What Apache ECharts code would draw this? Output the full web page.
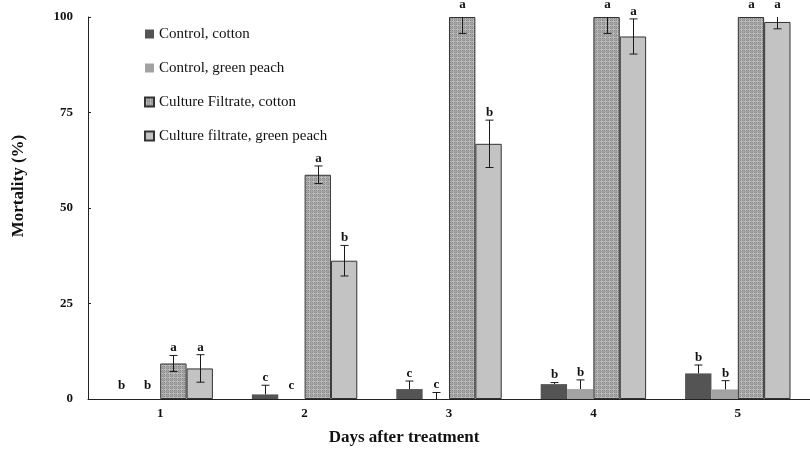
<!DOCTYPE html>
<html>
<head>
<meta charset="utf-8">
<script src="https://cdn.jsdelivr.net/npm/echarts@6/dist/echarts.min.js"></script>
<style>
  html, body { margin: 0; padding: 0; background: #fff; }
  #main { width: 810px; height: 449px; }
</style>
</head>
<body>
<div id="main"></div>
<script>
var days = ['1', '2', '3', '4', '5'];
var yTicks = [0, 25, 50, 75, 100];

var controlCotton = [0, 1.2, 2.6, 3.9, 6.7];
var controlCottonErr = [0, 2.4, 2.1, 0.4, 2.2];
var controlCottonLetters = ['b', 'c', 'c', 'b', 'b'];

var controlPeach = [0, 0, 0, 2.6, 2.5];
var controlPeachErr = [0, 0, 1.7, 2.4, 2.3];
var controlPeachLetters = ['b', 'c', 'c', 'b', 'b'];

var filtrateCotton = [9.3, 58.7, 100, 100, 100];
var filtrateCottonErr = [2.1, 2.3, 4.3, 4.3, 0];
var filtrateCottonLetters = ['a', 'a', 'a', 'a', 'a'];

var filtratePeach = [8.0, 36.2, 66.8, 94.9, 98.7];
var filtratePeachErr = [3.6, 4.0, 6.2, 4.6, 1.8];
var filtratePeachLetters = ['a', 'b', 'b', 'a', 'a'];

var serif = '"Liberation Serif", "DejaVu Serif", serif';

// checkered fill for the culture filtrate / cotton bars
function makeCheck() {
	var c = document.createElement('canvas');
	c.width = 4; c.height = 4;
	var g = c.getContext('2d');
	g.fillStyle = '#8a8a8a';
	g.fillRect(0, 0, 4, 4);
	g.fillStyle = '#bdbdbd';
	g.fillRect(1, 0, 1, 4);
	g.fillRect(0, 1, 4, 1);
	g.fillStyle = '#a4a4a4';
	g.fillRect(3, 0, 1, 4);
	g.fillRect(0, 3, 4, 1);
	return c;
}
var checkFill = { image: makeCheck(), repeat: 'repeat' };

var allVals = [controlCotton, controlPeach, filtrateCotton, filtratePeach];
var allErrs = [controlCottonErr, controlPeachErr, filtrateCottonErr, filtratePeachErr];
var allLetters = [controlCottonLetters, controlPeachLetters, filtrateCottonLetters, filtratePeachLetters];

var errData = [];
allVals.forEach(function(vals, s) {
	vals.forEach(function(v, i) {
		errData.push([i, v, allErrs[s][i], s]);
	});
});

function renderErr(params, api) {
	var cat = api.value(0), v = api.value(1), e = api.value(2), s = api.value(3);
	var base = api.coord([cat, 0]);
	var band = api.size([1, 0])[0];
	var bw = band * 0.73 / 4;
	var x = Math.round(base[0] + (s - 1.5) * bw) + 0.5;
	// controls only show the upper whisker
	var lo = s < 2 ? v : Math.max(v - e, 0);
	var hi = Math.min(v + e, 100);
	var yLo = api.coord([cat, lo])[1];
	var yHi = api.coord([cat, hi])[1];
	var ls = { stroke: '#1a1a1a', lineWidth: 1 };
	var kids = [];
	if (e > 0) {
		kids.push({ type: 'line', shape: { x1: x, y1: yLo, x2: x, y2: yHi }, style: ls });
		if (v + e <= 100) kids.push({ type: 'line', shape: { x1: x - 4, y1: yHi, x2: x + 4, y2: yHi }, style: ls });
		if (s >= 2 && v - e >= 0) kids.push({ type: 'line', shape: { x1: x - 4, y1: yLo, x2: x + 4, y2: yLo }, style: ls });
	}
	var ty = Math.min(yHi, base[1] - 6) - 1;
	if (hi >= 100) ty -= 5;
	kids.push({
		type: 'text',
		style: {
			x: x, y: ty, text: allLetters[s][cat],
			align: 'center', verticalAlign: 'bottom',
			font: 'bold 13px ' + serif, fill: '#111'
		}
	});
	return { type: 'group', children: kids };
}

var chart = echarts.init(document.getElementById('main'));
chart.setOption({
	animation: false,
	backgroundColor: '#fff',
	grid: { left: 88, right: -11, top: 17, bottom: 50, containLabel: false },
	legend: {
		orient: 'vertical',
		left: 139, top: 20,
		itemWidth: 9, itemHeight: 9, itemGap: 16,
		icon: 'rect',
		selectedMode: false,
		data: ['Control, cotton', 'Control, green peach', 'Culture Filtrate, cotton', 'Culture filtrate, green peach'],
		textStyle: { fontFamily: serif, fontSize: 15, color: '#111', lineHeight: 18 }
	},
	graphic: [
		{
			type: 'text', x: 404, y: 438,
			style: { text: 'Days after treatment', font: 'bold 17px ' + serif, fill: '#111', align: 'center', verticalAlign: 'middle' }
		},
		{
			type: 'text', x: 19, y: 186, rotation: Math.PI / 2,
			style: { text: 'Mortality (%)', font: 'bold 17px ' + serif, fill: '#111', align: 'center', verticalAlign: 'middle' }
		}
	],
	xAxis: {
		type: 'category',
		data: days,
		axisLine: { lineStyle: { color: '#222', width: 1 } },
		axisTick: { inside: true, length: 4, lineStyle: { color: '#222' } },
		axisLabel: { fontFamily: serif, fontWeight: 'bold', fontSize: 13, color: '#111', margin: 8 }
	},
	yAxis: {
		type: 'value',
		min: yTicks[0], max: yTicks[yTicks.length - 1], interval: 25,
		splitLine: { show: false },
		axisLine: { show: true, lineStyle: { color: '#222', width: 1 } },
		axisTick: { show: true, inside: true, length: 3, lineStyle: { color: '#222' } },
		axisLabel: { fontFamily: serif, fontWeight: 'bold', fontSize: 13, color: '#111', margin: 15 }
	},
	series: [
		{
			name: 'Control, cotton', type: 'bar', data: controlCotton,
			barGap: '0%', barCategoryGap: '27%',
			itemStyle: { color: '#545454' }
		},
		{
			name: 'Control, green peach', type: 'bar', data: controlPeach,
			barGap: '0%', barCategoryGap: '27%',
			itemStyle: { color: '#a2a2a2' }
		},
		{
			name: 'Culture Filtrate, cotton', type: 'bar', data: filtrateCotton,
			barGap: '0%', barCategoryGap: '27%',
			itemStyle: { color: checkFill, borderColor: '#333', borderWidth: 1 }
		},
		{
			name: 'Culture filtrate, green peach', type: 'bar', data: filtratePeach,
			barGap: '0%', barCategoryGap: '27%',
			itemStyle: { color: '#c3c3c3', borderColor: '#333', borderWidth: 1 }
		},
		{
			name: 'err', type: 'custom', data: errData,
			renderItem: renderErr, clip: false, z: 5,
			encode: { x: 0, y: 1 }
		}
	]
});
</script>
</body>
</html>
